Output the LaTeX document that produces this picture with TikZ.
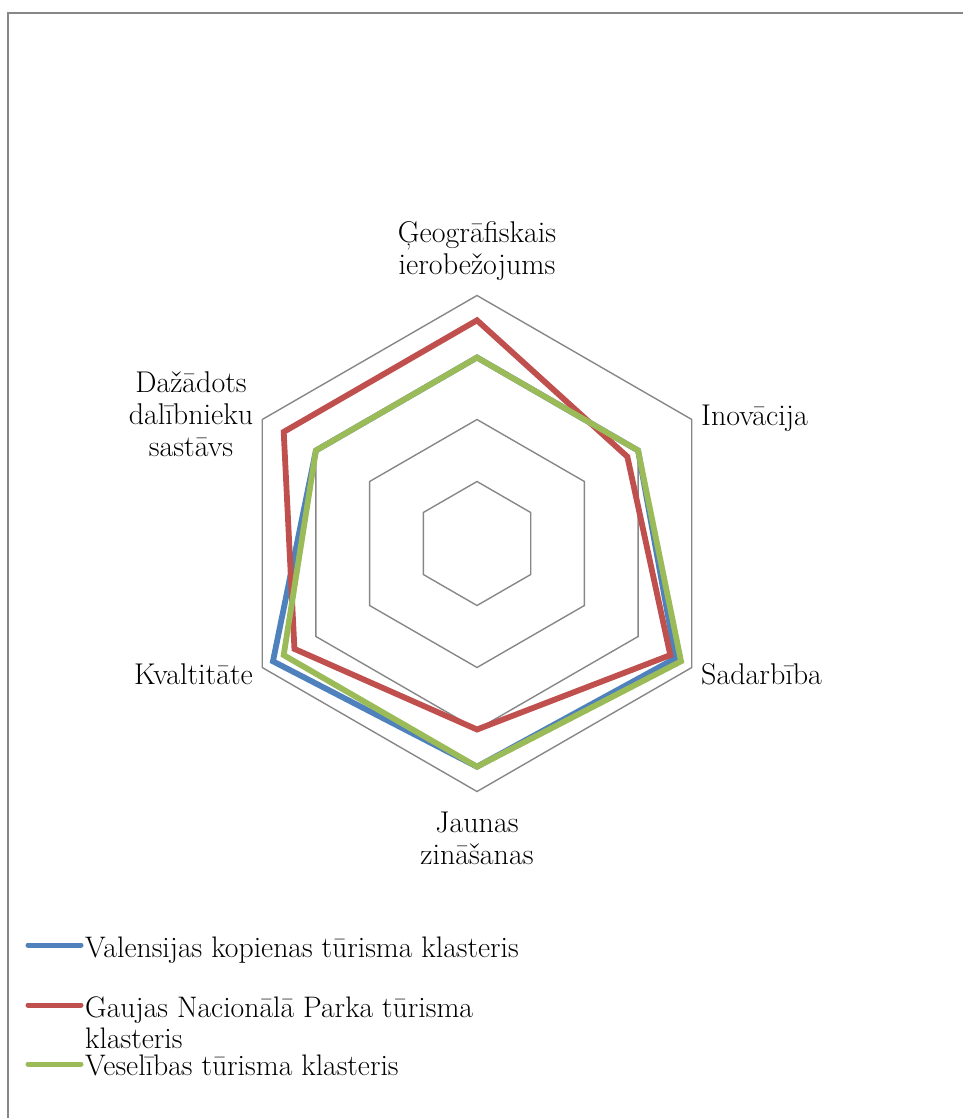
\documentclass[tikz,border=0pt]{standalone}
\usepackage{fontspec}
\begin{document}
\begin{tikzpicture}[x=1pt,y=-1pt,
  frame/.style={draw=black!47,line width=2pt},
  ring/.style={draw=black!47,line width=1.4pt},
  series/.style={line width=5.8pt,line join=miter},
  blueser/.style={series,draw=serblue},
  redser/.style={series,draw=serred},
  greenser/.style={series,draw=sergreen},
  axlabel/.style={font=\fontsize{30}{32}\selectfont,inner sep=0pt,align=center},
  legtext/.style={font=\fontsize{29.7}{31}\selectfont,inner sep=0pt,align=left,anchor=base west},
  legline/.style={line width=5pt,line cap=round}]
\definecolor{serblue}{HTML}{4F81BD}
\definecolor{serred}{HTML}{C0504D}
\definecolor{sergreen}{HTML}{9BBB59}
\useasboundingbox (0,0) rectangle (963,1118);
% chart frame (top and left edges)
\draw[frame] (963,13) -- (8,13) -- (8,1118);

% radar grid and series, 62pt per unit
\begin{scope}[shift={(477,543.5)},yscale=-1]
  \foreach \k in {1,...,4}
    \draw[ring] (90:\k*62) -- (30:\k*62) -- (-30:\k*62) -- (-90:\k*62)
      -- (210:\k*62) -- (150:\k*62) -- cycle;
  \draw[blueser] (90:3.0*62) -- (30:3.0*62) -- (-30:3.7*62) -- (-90:3.6*62)
    -- (210:3.8*62) -- (150:3.0*62) -- cycle;
  \draw[redser] (90:3.6*62) -- (30:2.8*62) -- (-30:3.6*62) -- (-90:3.0*62)
    -- (210:3.4*62) -- (150:3.6*62) -- cycle;
  \draw[greenser] (90:3.0*62) -- (30:3.0*62) -- (-30:3.8*62) -- (-90:3.6*62)
    -- (210:3.6*62) -- (150:3.0*62) -- cycle;
\end{scope}

% axis labels (base = baseline of the last line)
\node[axlabel,anchor=base] (geo) at (477,274) {Ģeogrāfiskais\\ierobežojums};
\node[axlabel,anchor=base west] (inov) at (701,425) {Inovācija};
\node[axlabel,anchor=base west] (sad) at (701,684) {Sadarbība};
\node[axlabel,anchor=base] (jaun) at (477,864) {Jaunas\\zināšanas};
\node[axlabel,anchor=base east] (kval) at (253,684) {Kvaltitāte};
\node[axlabel,anchor=base] (daz) at (191,456) {Dažādots\\dalībnieku\\sastāvs};

% legend
\coordinate (lb1) at (28,945);  \coordinate (lb2) at (81,945);
\coordinate (lr1) at (28,1005); \coordinate (lr2) at (81,1005);
\coordinate (lg1) at (28,1064); \coordinate (lg2) at (81,1064);
\draw[legline,serblue] (lb1) -- (lb2);
\draw[legline,serred] (lr1) -- (lr2);
\draw[legline,sergreen] (lg1) -- (lg2);
\node[legtext] (legb) at (85,957) {Valensijas kopienas tūrisma klasteris};
\node[legtext] (legr) at (85,1048) {Gaujas Nacionālā Parka tūrisma\\klasteris};
\node[legtext] (legg) at (85,1075) {Veselības tūrisma klasteris};
\end{tikzpicture}
\end{document}
